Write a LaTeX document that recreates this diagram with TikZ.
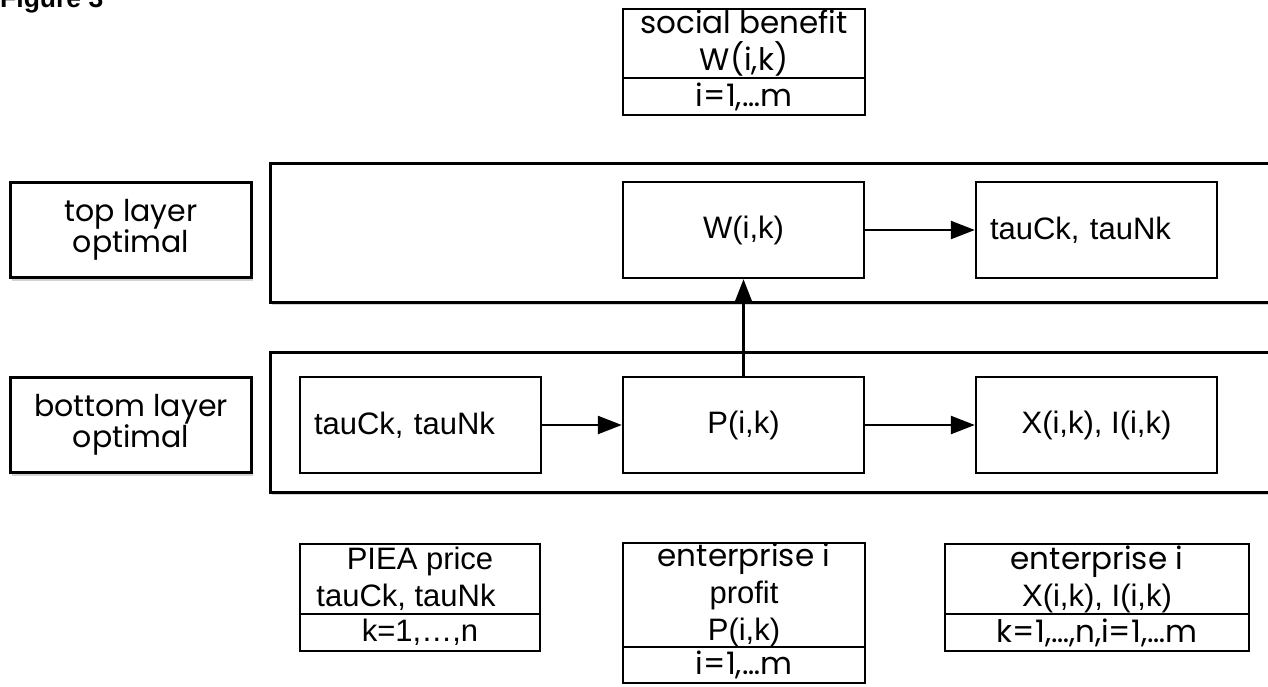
\documentclass[tikz,border=0pt]{standalone}
\usepackage{fontspec}
\setmainfont{Liberation Sans}
\newfontfamily\gothic{Poppins}
\usetikzlibrary{arrows.meta,positioning,shadows}
\tikzset{
  layerbox/.style={draw,fill=white,line width=3pt,drop shadow={shadow xshift=1.5pt,shadow yshift=-3pt,opacity=0.35}},
  lblbox/.style={layerbox,minimum width=241pt,minimum height=95pt,align=center,font=\gothic\fontsize{30}{31}\selectfont},
  stepbox/.style={draw,fill=white,line width=2.4pt,minimum width=241pt,minimum height=96pt,font=\fontsize{31}{38}\selectfont},
  infohead/.style={draw,line width=2.6pt,outer sep=0pt,inner sep=0pt,align=center,font=\fontsize{31}{37}\selectfont},
  infofoot/.style={infohead,below=0pt of #1,minimum height=37pt},
  flow/.style={-{Triangle[length=24pt,width=18pt]},line width=2.4pt}
}
\begin{document}
\begin{tikzpicture}[x=1pt,y=-1pt]
\useasboundingbox (0,0) rectangle (1268,686);
\clip (0,0) rectangle (1268,686);
\node[anchor=base west,inner sep=0pt,font=\bfseries\fontsize{26.5}{30}\selectfont] (figtitle) at (0,7) {Figure 3};
% layers
\node[layerbox,minimum width=1010pt,minimum height=139pt] (toplayer) at (775,232.5) {};
\node[layerbox,minimum width=1010pt,minimum height=140pt] (botlayer) at (775,422) {};
\node[lblbox] (toplbl) at (131,230) {top layer\\optimal};
\node[lblbox] (botlbl) at (131,425) {bottom layer\\optimal};
% steps
\node[stepbox] (W) at (743.5,230) {W(i,k)};
\node[stepbox,text width=213pt,inner xsep=14pt,align=left] (tautop) at (1096.5,230) {tauCk, tauNk};
\node[stepbox,text width=213pt,inner xsep=14pt,align=left] (taubot) at (420.5,425) {tauCk, tauNk};
\node[stepbox] (P) at (743.5,425) {P(i,k)};
\node[stepbox] (X) at (1096.5,425) {X(i,k), I(i,k)};
\draw[flow] (W) -- (tautop);
\draw[flow] (taubot) -- (P);
\draw[flow] (P) -- (X);
\draw[flow] (P) -- (W);
% variable boxes
\node[infohead,minimum width=242pt,minimum height=69pt] (sbhead) at (744,43.5) {\gothic social benefit\\\gothic W(i,k)};
\node[infofoot=sbhead,minimum width=242pt] (sbfoot) {\gothic i=1,…m};
\node[infohead,minimum width=240pt,minimum height=70pt] (pieahead) at (420,579) {PIEA price\\tauCk, tauNk\hspace*{28pt}};
\node[infofoot=pieahead,minimum width=240pt] (pieafoot) {k=1,…,n};
\node[infohead,minimum width=242pt,minimum height=102pt] (profhead) at (744,595) {\gothic enterprise i\\profit\\P(i,k)};
\node[infofoot=profhead,minimum width=242pt,minimum height=36pt] (proffoot) {\gothic i=1,…m};
\node[infohead,minimum width=304pt,minimum height=70pt] (enthead) at (1097,579) {\gothic enterprise i\\X(i,k), I(i,k)};
\node[infofoot=enthead,minimum width=304pt] (entfoot) {\gothic k=1,…,n,i=1,…m};
\end{tikzpicture}
\end{document}
